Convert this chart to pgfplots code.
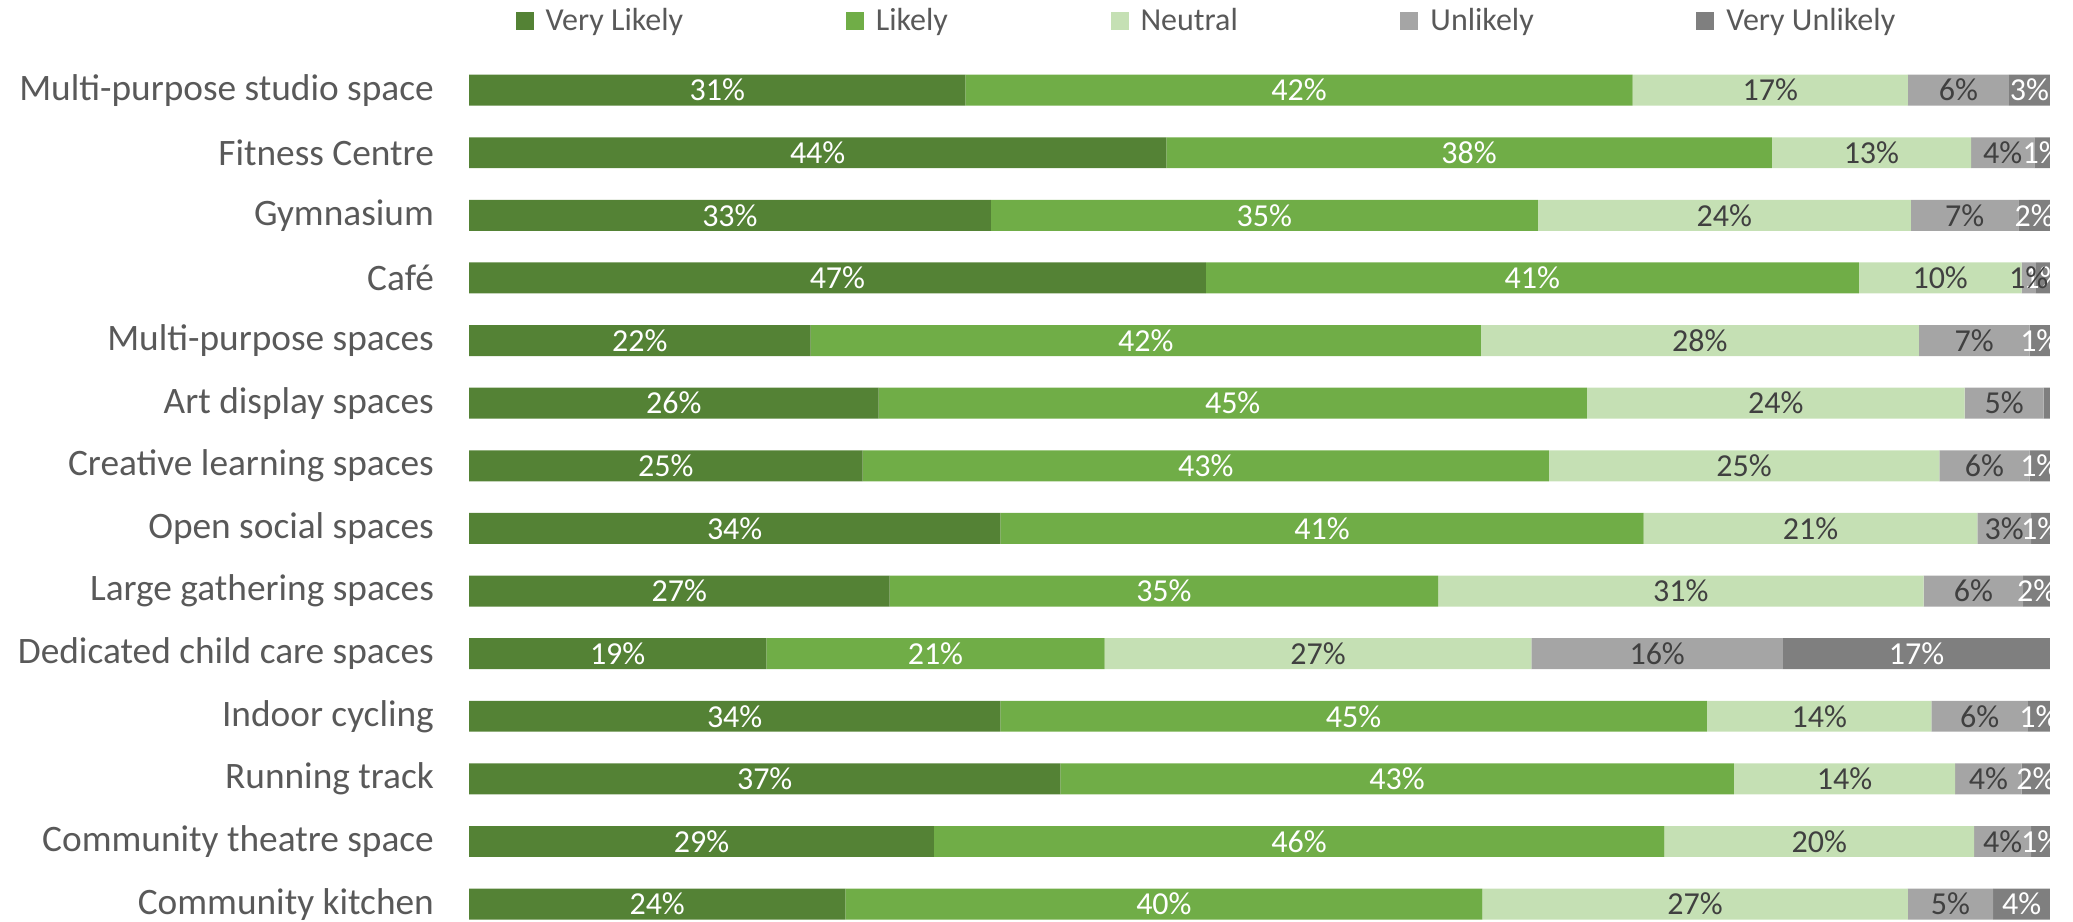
\documentclass[border=0pt]{standalone}
\usepackage{fontspec}
\setmainfont{Carlito}
\usepackage{pgfplots}
\pgfplotsset{compat=1.18}
\usepackage{pgfplotstable}
\definecolor{cvl}{HTML}{548235}
\definecolor{cl}{HTML}{70AD47}
\definecolor{cn}{HTML}{C5E0B4}
\definecolor{cu}{HTML}{A5A5A5}
\definecolor{cvu}{HTML}{7F7F7F}
\definecolor{labgray}{HTML}{595959}
\definecolor{dark}{HTML}{404040}

\pgfplotstableread{
idx vl l n u vu
0 31.4 42.2 17.4 6.4 2.6
1 44.1 38.3 12.6 4.0 1.0
2 33.0 34.6 23.6 6.8 2.0
3 46.6 41.3 10.3 0.9 0.9
4 21.6 42.4 27.7 7.0 1.3
5 25.9 44.8 23.9 5.0 0.4
6 24.9 43.4 24.7 5.7 1.3
7 33.6 40.7 21.1 3.4 1.2
8 26.6 34.7 30.7 6.3 1.7
9 18.8 21.4 27.0 15.9 16.9
10 33.6 44.7 14.2 6.1 1.4
11 37.4 42.6 14.0 4.2 1.8
12 29.4 46.2 19.6 3.6 1.2
13 23.8 40.3 26.9 5.4 3.6
}\datatable

\begin{document}
\begin{tikzpicture}
\useasboundingbox (0,0) rectangle (777.4pt,345.4pt);
\begin{axis}[
  at={(175.9pt,0pt)}, anchor=south west,
  scale only axis, width=592.9pt, height=325.7pt,
  xbar stacked, bar width=11.6pt,
  xmin=0, xmax=100, ymin=-0.6, ymax=13.27,
  y dir=reverse,
  axis line style={draw=none}, tick style={draw=none},
  xtick=\empty,
  ytick={0,...,13},
  yticklabels={Multi-purpose studio space, Fitness Centre, Gymnasium, Café, Multi-purpose spaces, Art display spaces, Creative learning spaces, Open social spaces, Large gathering spaces, Dedicated child care spaces, Indoor cycling, Running track, Community theatre space, Community kitchen},
  yticklabel style={font=\fontsize{14}{16}\selectfont, text=labgray, inner sep=0pt, xshift=-13pt},
  legend columns=-1,
  legend style={at={(0.0291,1.036)}, anchor=west, draw=none, fill=none, inner sep=0pt,
    font=\fontsize{12}{14}\selectfont, text=labgray, nodes={inner sep=0pt},
    /tikz/every even column/.append style={column sep=61pt},
    /tikz/every odd column/.append style={column sep=4.5pt}},
  every axis plot post/.append style={legend image code/.code={\fill[##1,draw=none] (0pt,-3.375pt) rectangle (6.75pt,3.375pt);}},
  point meta=explicit,
  nodes near coords={\pgfmathprintnumber[fixed,precision=0,assume math mode=true]{\pgfplotspointmeta}\%},
  every node near coord/.append style={anchor=center, font=\fontsize{12}{14}\selectfont},
]
\addplot[fill=cvl, draw=none, every node near coord/.append style={text=white}] table[x=vl, y=idx, meta=vl]{\datatable};
\addplot[fill=cl, draw=none, every node near coord/.append style={text=white}] table[x=l, y=idx, meta=l]{\datatable};
\addplot[fill=cn, draw=none, every node near coord/.append style={text=dark}] table[x=n, y=idx, meta=n]{\datatable};
\addplot[fill=cu, draw=none, every node near coord/.append style={text=dark}] table[x=u, y=idx, meta=u]{\datatable};
\addplot[fill=cvu, draw=none, visualization depends on={\thisrow{vu} \as \rawx}, every node near coord/.append style={text=white},
  nodes near coords={\ifdim\rawx pt<0.5pt\else\pgfmathprintnumber[fixed,precision=0,assume math mode=true]{\pgfplotspointmeta}\%\fi}] table[x=vu, y=idx, meta=vu]{\datatable};
\legend{Very Likely, Likely, Neutral, Unlikely, Very Unlikely}
\end{axis}
\fill[white] (768.75pt,0pt) rectangle (778pt,346pt);
\end{tikzpicture}
\end{document}
